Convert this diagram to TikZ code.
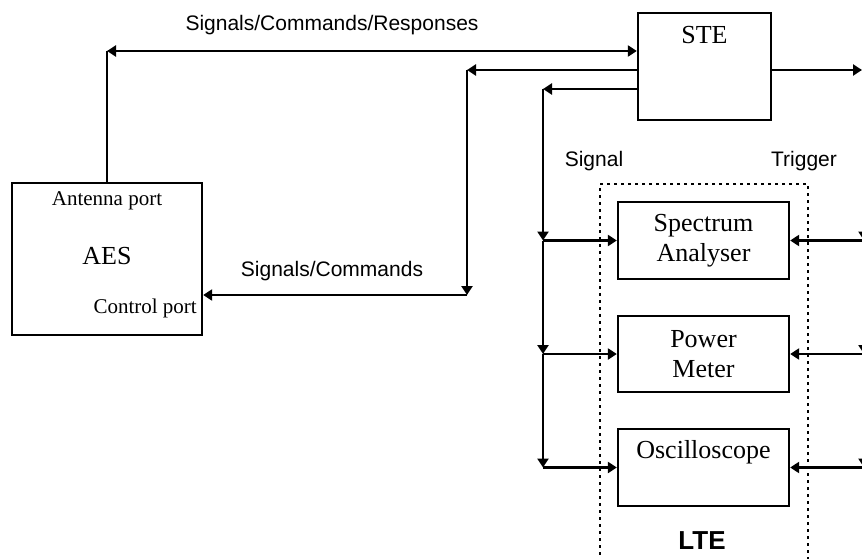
\documentclass[tikz,border=0pt]{standalone}
\usepackage{fontspec}
\setmainfont{Liberation Serif}
\setsansfont{Liberation Sans}
\usetikzlibrary{
    arrows.meta,
    positioning
}
\newcommand{\blkfont}{\fontsize{26}{30}\selectfont}
\newcommand{\prtfont}{\fontsize{21}{25}\selectfont}
\newcommand{\wirefont}{\fontsize{21}{25}\selectfont\sffamily}
\tikzset{
    % Blocks
    box/.style={draw,line width=2.3pt,inner sep=0pt,align=center,font=\blkfont},
    lte frame/.style={draw,line width=2.6pt,dash pattern=on 2.6pt off 4.4pt},
    %
    % Texts
    box label/.style={font=\blkfont,inner sep=0pt},
    port label/.style={font=\prtfont,inner sep=0pt},
    wire label/.style={font=\wirefont,inner sep=0pt},
    lte label/.style={font=\blkfont\sffamily\bfseries,inner sep=0pt},
    %
    % Arrows
    arrow tip/.tip={Triangle[length=9pt,width=11pt]},
    wire/.style={line width=2.3pt},
    arr/.style={wire,-{arrow tip}},
    arr both/.style={wire,{arrow tip}-{arrow tip}}
}

\begin{document}
\begin{tikzpicture}[x=1pt,y=-1pt]
    \clip (0,0) rectangle (862,559);
    \useasboundingbox (0,0) rectangle (862,559);
    %
    % Blocks
    \node[box,minimum width=190pt,minimum height=152pt] (aes) at (107,259) {};
    \node[box,minimum width=133pt,minimum height=107pt] (ste) at (704.5,66.5) {};
    \node[lte frame,minimum width=208pt,minimum height=420pt] (lte) at (704,394) {};
    \node[box,minimum width=171pt,minimum height=77pt] (sa) at (703.5,240.5) {Spectrum\\Analyser};
    \node[box,minimum width=171pt,minimum height=76pt] (pm) at (703.5,354) {Power\\Meter};
    \node[box,minimum width=171pt,minimum height=77pt] (osc) at (703.5,467.5) {};
    %
    % Texts
    \node[box label] (ste text) at (704.5,35) {STE};
    \node[box label] (osc text) at (703.5,452) {Oscilloscope};
    \node[box label] (aes text) at (107,256) {AES};
    \node[port label] (antenna) at (107,201) {Antenna port};
    \node[port label,anchor=east] (control) at (197,308) {Control port};
    \node[wire label] (scr text) at (332,25) {Signals/Commands/Responses};
    \node[wire label] (sc text) at (332,271) {Signals/Commands};
    \node[wire label,anchor=base] (signal text) at (594,167) {Signal};
    \node[wire label,anchor=base] (trigger text) at (804,167) {Trigger};
    \node[lte label] (lte text) at (702,541) {LTE};
    %
    % Wires
    \coordinate (resp) at (107,51);
    \coordinate (cmd) at (467,70);
    \coordinate (cmd low) at (467,295);
    \coordinate (sig) at (543,89);
    \coordinate (out) at (862,70);
    \coordinate (trig) at (864,70);
    \draw[wire] (aes.north) -- (resp);
    \draw[arr both] (resp) -- (ste.west |- resp);
    \draw[arr] (ste.west |- cmd) -- (cmd);
    \draw[arr] (cmd) -- (cmd low);
    \draw[arr] (cmd low) -- (aes.east |- cmd low);
    \draw[arr] (ste.west |- sig) -- (sig);
    \draw[arr] (sig) -- (sig |- sa.west);
    \draw[arr] (sig |- sa.west) -- (sig |- pm.west);
    \draw[arr] (sig |- pm.west) -- (sig |- osc.west);
    \draw[arr] (ste.east |- out) -- (out);
    \draw[arr] (trig) -- (trig |- sa.east);
    \draw[arr] (trig |- sa.east) -- (trig |- pm.east);
    \draw[arr] (trig |- pm.east) -- (trig |- osc.east);
    \foreach \b in {sa,pm,osc}{
        \draw[arr] (sig |- \b.west) -- (\b.west);
        \draw[arr] (trig |- \b.east) -- (\b.east);
    }
\end{tikzpicture}
\end{document}
